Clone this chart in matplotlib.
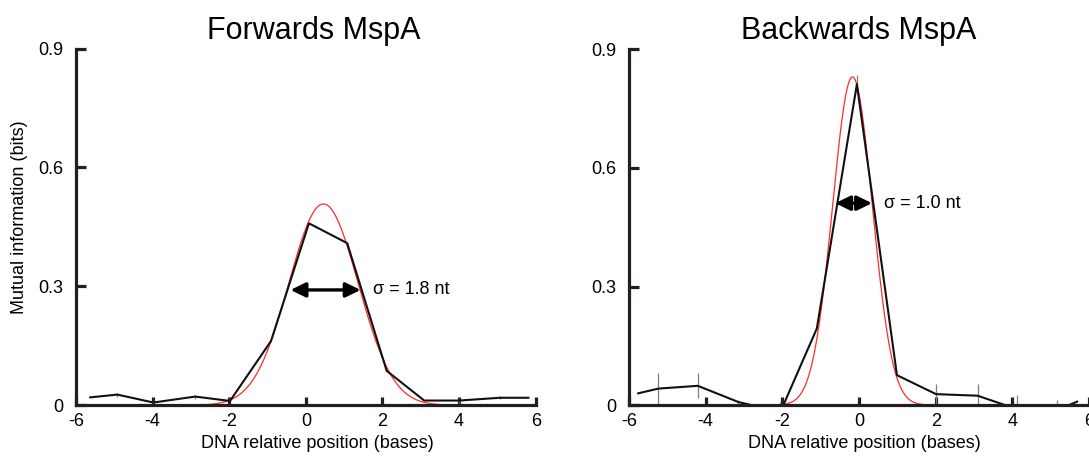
import numpy as np
import matplotlib
matplotlib.use("Agg")
import matplotlib.pyplot as plt

plt.rcParams['font.family'] = ['Liberation Sans', 'DejaVu Sans']
plt.rcParams['axes.unicode_minus'] = False

# ---- data ----
fwd_x = [-5.63, -4.92, -3.98, -2.89, -1.98, -0.91, 0.08, 1.08, 2.11, 3.09, 4.00, 5.07, 5.81]
fwd_y = [0.020, 0.027, 0.007, 0.022, 0.011, 0.162, 0.459, 0.409, 0.087, 0.012, 0.012, 0.019, 0.019]
fwd_err = [0.0, 0.005, 0.005, 0.005, 0.0, 0.0, 0.0, 0.0, 0.0, 0.0, 0.005, 0.004, 0.0]
fwd_fit = dict(amp=0.508, mu=0.46, sigma=0.905)
fwd_arrow = (-0.40, 1.43, 0.291)
fwd_label = "σ = 1.8 nt"

bwd_x = [-5.76, -5.235, -4.206, -3.146, -2.05, -1.10, -0.055, 0.99, 2.01, 3.095, 4.12, 5.17, 5.69]
bwd_y = [0.030, 0.042, 0.049, 0.008, -0.017, 0.194, 0.812, 0.076, 0.028, 0.024, -0.010, -0.012, 0.009]
bwd_err = [0.0, 0.039, 0.032, 0.005, 0.026, 0.0, 0.023, 0.0, 0.026, 0.030, 0.036, 0.025, 0.0]
bwd_fit = dict(amp=0.8305, mu=-0.17, sigma=0.52)
bwd_arrow = (-0.62, 0.34, 0.511)
bwd_label = "σ = 1.0 nt"

titles = ["Forwards MspA", "Backwards MspA"]
xticks = [-6, -4, -2, 0, 2, 4, 6]
yticks = [0, 0.3, 0.6, 0.9]
yticklabels = ["0", "0.3", "0.6", "0.9"]
xlabel = "DNA relative position (bases)"
ylabel = "Mutual information (bits)"

W, H = 1089, 458
fig = plt.figure(figsize=(W / 100, H / 100), dpi=100)
ax1 = fig.add_axes([76 / W, (H - 405.3) / H, 459.7 / W, 356.8 / H])
ax2 = fig.add_axes([629 / W, (H - 405.2) / H, 460 / W, 355.8 / H])

spine_c = '#231f20'


def gauss_curve(ax, p):
    xs = np.linspace(-6, 6, 600)
    ys = p['amp'] * np.exp(-0.5 * ((xs - p['mu']) / p['sigma']) ** 2)
    ax.plot(xs, ys, color='#ff2a2a', lw=0.9, zorder=3)


def style(ax, lblx):
    ax.set_xlim(-6, 6)
    ax.set_ylim(0, 0.9)
    for s in ['top', 'right']:
        ax.spines[s].set_visible(False)
    for s in ['left', 'bottom']:
        ax.spines[s].set_linewidth(2.3)
        ax.spines[s].set_color(spine_c)
        ax.spines[s].set_zorder(6)
        ax.spines[s].set_capstyle('projecting')
    ax.set_xticks(xticks)
    ax.set_xticklabels([str(t) for t in xticks])
    ax.set_yticks(yticks)
    ax.set_yticklabels(yticklabels)
    ax.tick_params(axis='y', direction='in', length=7.5, width=2.3, color=spine_c,
                   labelsize=13, pad=9)
    ax.tick_params(axis='x', direction='in', length=6, width=2.3, color=spine_c,
                   labelsize=13, pad=5.5)
    for t in ax.get_xticklines() + ax.get_yticklines():
        t.set_zorder(6)
    ax.set_xlabel(xlabel, fontsize=13, va='center')
    ax.xaxis.set_label_coords(lblx, -0.108)


def panel(ax, x, y, err, fit, arrow, label):
    ax.errorbar(x, y, yerr=err, color='#111111', lw=1.5, ecolor='#7f7f7f',
                elinewidth=0.9, capsize=0, zorder=4)
    gauss_curve(ax, fit)
    x0, x1, ya = arrow
    ax.annotate('', xy=(x1, ya), xytext=(x0, ya),
                arrowprops=dict(arrowstyle='<|-|>,head_length=0.45,head_width=0.22',
                                color='black', lw=2.4, mutation_scale=20,
                                shrinkA=0, shrinkB=0), zorder=5)
    ax.text(x1 + 0.32, ya, label, fontsize=13, va='center', ha='left')


panel(ax1, fwd_x, fwd_y, fwd_err, fwd_fit, fwd_arrow, fwd_label)
panel(ax2, bwd_x, bwd_y, bwd_err, bwd_fit, bwd_arrow, bwd_label)
style(ax1, 0.525)
style(ax2, 0.511)

ax1.set_ylabel(ylabel, fontsize=13, va='center')
ax1.yaxis.set_label_coords(-0.122, 0.526)

fig.text(313.3 / W, 1 - 39.5 / H, titles[0], fontsize=22, ha='center', va='baseline')
fig.text(859 / W, 1 - 39.5 / H, titles[1], fontsize=22, ha='center', va='baseline')

fig.savefig("out.png", dpi=100)
